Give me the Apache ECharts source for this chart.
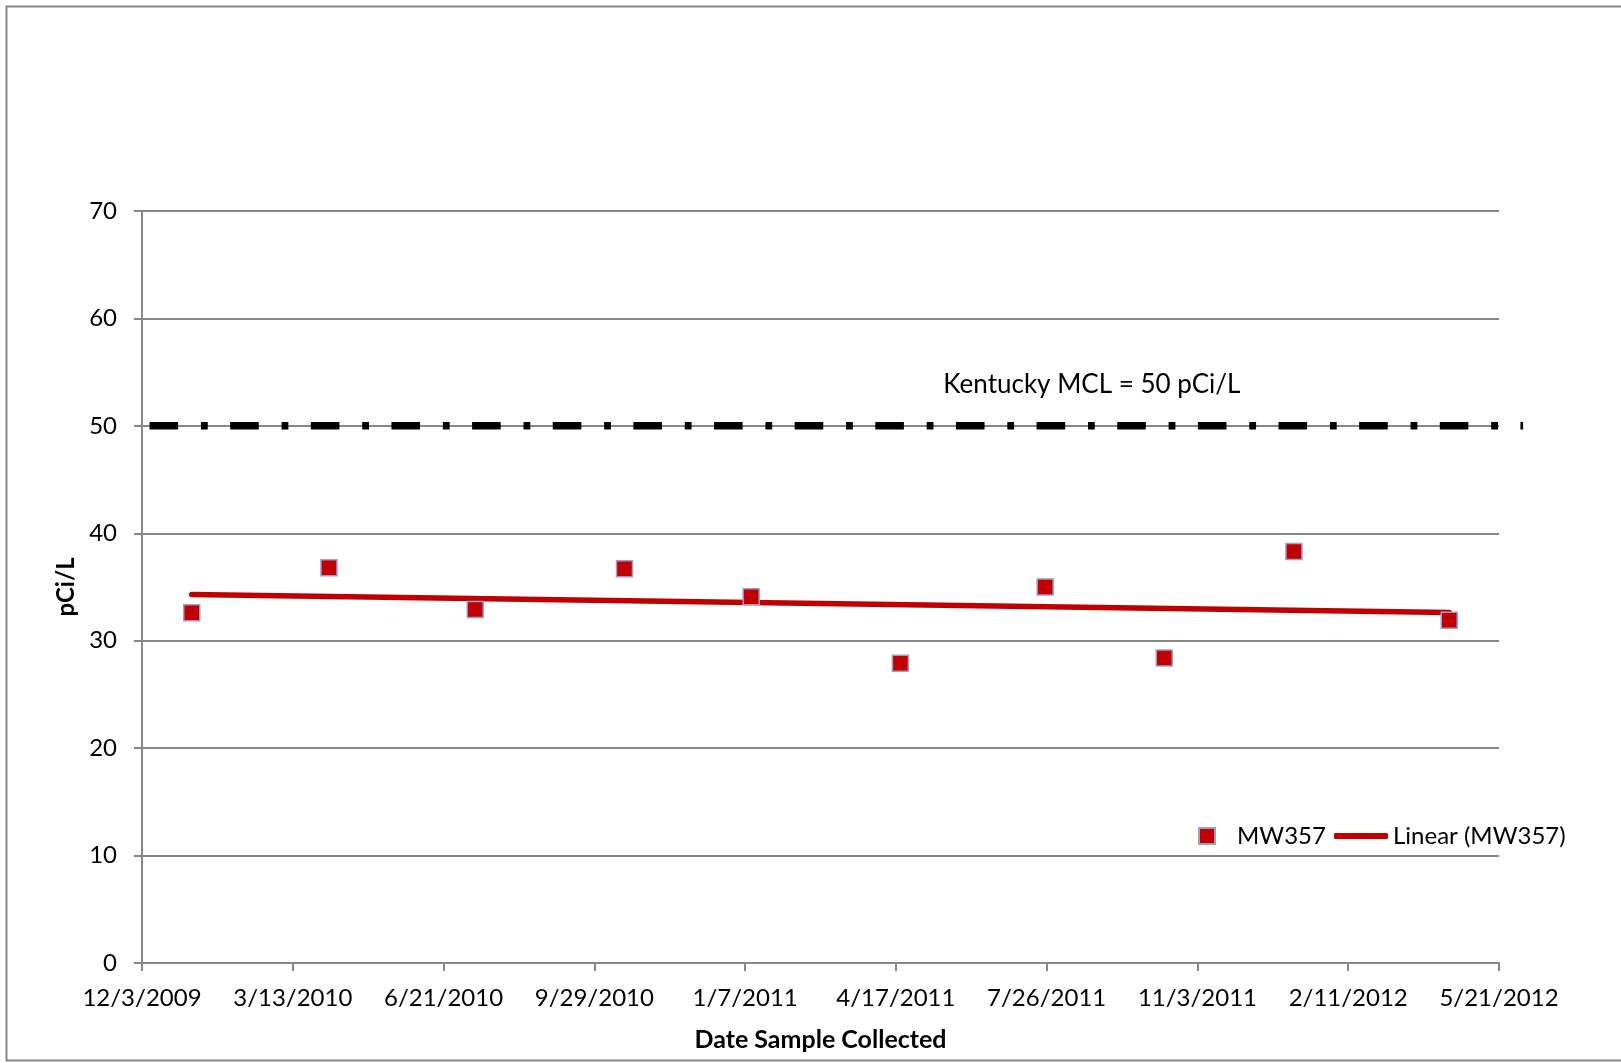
<!DOCTYPE html>
<html>
<head>
<meta charset="utf-8">
<title>MW357</title>
<script src="https://cdn.jsdelivr.net/npm/echarts@6/dist/echarts.min.js"></script>
<style>
  html, body { margin: 0; padding: 0; background: #ffffff; }
  #chart { width: 1621px; height: 1063px; }
</style>
</head>
<body>
<div id="chart"></div>
<script>
// Sample dates and measured activity for well MW357
const sampleDates = ['2010-01-05', '2010-04-06', '2010-07-12', '2010-10-19', '2011-01-11',
                     '2011-04-20', '2011-07-25', '2011-10-12', '2012-01-06', '2012-04-18'];
const mw357Values = [32.6, 36.8, 32.9, 36.7, 34.1, 27.9, 35.0, 28.4, 38.3, 31.9];

// Kentucky MCL reference line
const mclDates = ['2009-12-08', '2012-06-06'];
const mclValue = 50;
const mclLabel = 'Kentucky MCL = 50 pCi/L';
const mclLabelAt = ['2011-08-25', 53.8];

// Axis range: day offsets from the first tick date, ticks every 100 days
const axisStartDate = '2009-12-03';
const xMaxDays = 900;
const xStepDays = 100;
const yTicks = [0, 10, 20, 30, 40, 50, 60, 70];

const DAY = 86400000;
const baseMs = Date.parse(axisStartDate + 'T00:00:00Z');
const toDays = s => Math.round((Date.parse(s + 'T00:00:00Z') - baseMs) / DAY);
const fmtDate = d => {
  const t = new Date(baseMs + d * DAY);
  return (t.getUTCMonth() + 1) + '/' + t.getUTCDate() + '/' + t.getUTCFullYear();
};

const xs = sampleDates.map(toDays);
const points = xs.map((x, i) => [x, mw357Values[i]]);

// Least-squares linear trend over the samples
const n = xs.length;
const mx = xs.reduce((a, b) => a + b, 0) / n;
const my = mw357Values.reduce((a, b) => a + b, 0) / n;
let sxy = 0, sxx = 0;
for (let i = 0; i < n; i++) {
  sxy += (xs[i] - mx) * (mw357Values[i] - my);
  sxx += (xs[i] - mx) * (xs[i] - mx);
}
const slope = sxy / sxx;
const intercept = my - slope * mx;
const trend = [xs[0], xs[n - 1]].map(x => [x, intercept + slope * x]);

const mclLine = mclDates.map(d => [toDays(d), mclValue]);
const mclEnd = toDays(mclDates[1]);

const FONT = 'Lato';
const GRAY = '#878787';
const RED = '#C00000';

// Plot box
const W = 1621, GL = 142, GR = 122, GT = 211, GB = 100;
const pxPerDay = (W - GL - GR) / xMaxDays;
// The MCL line runs past the last tick, so it sits on an overlay grid
// sharing the same scale but reaching further right.
const overlayRight = W - GL - pxPerDay * mclEnd;

const yMin = yTicks[0], yMax = yTicks[yTicks.length - 1];

const chart = echarts.init(document.getElementById('chart'), null, { renderer: 'canvas' });
chart.setOption({
  backgroundColor: '#ffffff',
  animation: false,
  textStyle: { fontFamily: FONT, color: '#000' },
  graphic: [{
    type: 'rect',
    shape: { x: 6.5, y: 6.5, width: 1640, height: 1054 },
    style: { fill: 'none', stroke: GRAY, lineWidth: 2 },
    silent: true
  }],
  grid: [
    { left: GL, right: GR, top: GT, bottom: GB },
    { left: GL, right: overlayRight, top: GT, bottom: GB }
  ],
  xAxis: [{
    type: 'value',
    gridIndex: 0,
    min: 0, max: xMaxDays, interval: xStepDays,
    name: 'Date Sample Collected',
    nameLocation: 'middle',
    nameGap: 64,
    nameTextStyle: { fontFamily: FONT, fontSize: 25, fontWeight: 'bold', color: '#000' },
    axisLine: { show: true, lineStyle: { color: GRAY, width: 2 } },
    axisTick: { show: true, inside: false, length: 8, lineStyle: { color: GRAY, width: 2 } },
    axisLabel: { fontFamily: FONT, fontSize: 24, color: '#000', margin: 23, formatter: v => fmtDate(v) },
    splitLine: { show: false }
  }, {
    type: 'value',
    gridIndex: 1,
    min: 0, max: mclEnd,
    show: false
  }],
  yAxis: [{
    type: 'value',
    gridIndex: 0,
    min: yMin, max: yMax, interval: yTicks[1] - yTicks[0],
    name: 'pCi/L',
    nameLocation: 'middle',
    nameRotate: 90,
    nameGap: 62,
    nameTextStyle: { fontFamily: FONT, fontSize: 24, fontWeight: 'bold', color: '#000' },
    axisLine: { show: true, lineStyle: { color: GRAY, width: 2 } },
    axisTick: { show: true, inside: false, length: 8, lineStyle: { color: GRAY, width: 2 } },
    axisLabel: { fontFamily: FONT, fontSize: 24, color: '#000', margin: 25 },
    splitLine: { show: true, lineStyle: { color: GRAY, width: 2 } }
  }, {
    type: 'value',
    gridIndex: 1,
    min: yMin, max: yMax,
    show: false
  }],
  legend: [{
    data: ['MW357'],
    left: 1198, top: 824, padding: 0,
    icon: 'rect',
    itemWidth: 16, itemHeight: 16,
    textStyle: { fontFamily: FONT, fontSize: 24, color: '#000', padding: [0, 0, 0, 17] },
    selectedMode: false
  }, {
    data: ['Linear (MW357)'],
    left: 1334, top: 824, padding: 0,
    icon: 'roundRect',
    itemWidth: 54, itemHeight: 6,
    textStyle: { fontFamily: FONT, fontSize: 24, color: '#000' },
    selectedMode: false
  }],
  series: [{
    name: 'MCL',
    type: 'line',
    xAxisIndex: 1, yAxisIndex: 1,
    data: mclLine,
    symbol: 'none',
    silent: true,
    z: 3,
    lineStyle: { color: '#000', width: 7.5, type: [28.6, 22.8, 6.8, 22.44], cap: 'butt' },
    markPoint: {
      symbol: 'rect',
      symbolSize: 0,
      silent: true,
      data: [{ coord: [toDays(mclLabelAt[0]), mclLabelAt[1]], value: mclLabel }],
      label: {
        show: true, position: 'inside', formatter: mclLabel,
        fontFamily: FONT, fontSize: 26, color: '#000'
      }
    }
  }, {
    name: 'Linear (MW357)',
    type: 'line',
    data: trend,
    symbol: 'none',
    showSymbol: false,
    z: 4,
    lineStyle: { color: RED, width: 5.5, cap: 'round' },
    itemStyle: { color: RED }
  }, {
    name: 'MW357',
    type: 'scatter',
    data: points,
    symbol: 'rect',
    symbolSize: 16,
    z: 5,
    itemStyle: { color: RED, borderColor: '#A29CC8', borderWidth: 1.5, opacity: 1 }
  }]
});
</script>
</body>
</html>
